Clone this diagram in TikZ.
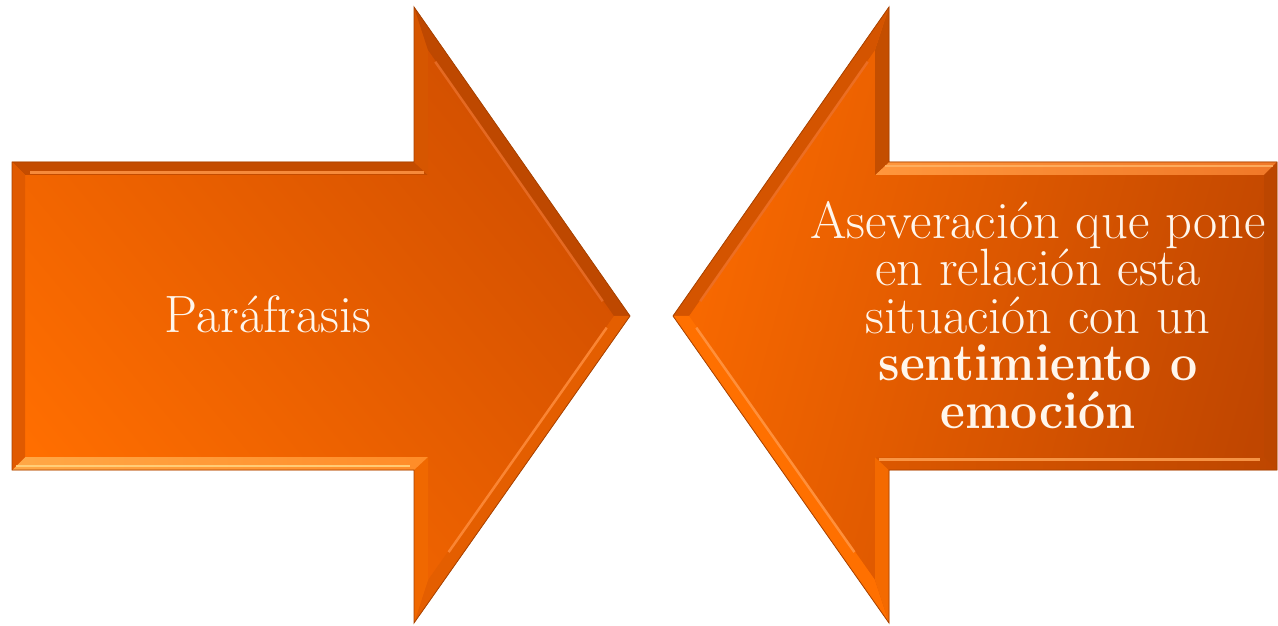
\documentclass[tikz,border=0pt]{standalone}
\usepackage{fontspec}
\setmainfont{Latin Modern Roman}
\usetikzlibrary{calc}
\newcommand{\narrowbf}[1]{\scalebox{0.92}[1]{\textbf{#1}}}
\definecolor{txtc}{HTML}{FFF6EC}
\definecolor{edgec}{HTML}{A84200}
% left arrow colours
\definecolor{lbodyD}{RGB}{208,78,0}
\definecolor{lbodyL}{RGB}{255,110,0}
\definecolor{lTop}{RGB}{196,76,0}
\definecolor{lHeadUp}{RGB}{214,86,0}
\definecolor{lDiagUp}{RGB}{190,72,0}
\definecolor{lDiagLo}{RGB}{228,94,0}
\definecolor{lHeadLo}{RGB}{240,104,0}
\definecolor{lBotA}{RGB}{255,168,70}
\definecolor{lBotB}{RGB}{255,140,40}
\definecolor{lLeft}{RGB}{224,90,0}
\definecolor{gA}{RGB}{255,150,70}
\definecolor{gB}{RGB}{255,214,130}
\definecolor{gC}{RGB}{232,110,40}
\definecolor{gD}{RGB}{255,140,60}
% right arrow colours
\definecolor{rbodyL}{RGB}{250,106,0}
\definecolor{rbodyD}{RGB}{192,70,0}
\definecolor{rTopA}{RGB}{255,150,60}
\definecolor{rTopB}{RGB}{240,120,40}
\definecolor{rHeadUp}{RGB}{196,78,0}
\definecolor{rDiagUp}{RGB}{212,84,0}
\definecolor{rDiagLo}{RGB}{255,112,0}
\definecolor{rHeadLo}{RGB}{244,106,0}
\definecolor{rBotA}{RGB}{220,88,0}
\definecolor{rBotB}{RGB}{190,70,0}
\definecolor{rRight}{RGB}{188,70,0}
\definecolor{gE}{RGB}{255,178,100}
\definecolor{gF}{RGB}{255,160,80}
\definecolor{gG}{RGB}{236,112,40}
\definecolor{gH}{RGB}{255,150,70}
\tikzset{
  outline/.style={draw=edgec, line width=0.8pt, line join=miter},
  glint/.style={line width=2.5pt, opacity=0.85, line cap=butt},
  shadowfill/.style={fill=black, opacity=0.13},
  lbl/.style={text=txtc, align=center, inner sep=0pt, font=\fontsize{52.5}{47.5}\selectfont}
}
\begin{document}
\begin{tikzpicture}[x=1pt,y=1pt]
\useasboundingbox (0,0) rectangle (1278,625);
\fill[white] (0,0) rectangle (1278,625);
\begin{scope}
\clip (0,0) rectangle (1278,625);
% ---------- LEFT ARROW ----------
\coordinate (LA) at (12,463);
\coordinate (LB) at (414,463);
\coordinate (LC) at (414,618);
\coordinate (LD) at (630,309);
\coordinate (LE) at (414,2);
\coordinate (LF) at (414,155);
\coordinate (LG) at (12,155);
\coordinate (la) at (25,450);
\coordinate (lb) at (428,450);
\coordinate (lc) at (428,575);
\coordinate (ld) at (614,309);
\coordinate (le) at (428,45);
\coordinate (lf) at (428,168);
\coordinate (lg) at (25,168);
\fill[shadowfill, shift={(3,-4)}] (LA)--(LB)--(LC)--(LD)--(LE)--(LF)--(LG)--cycle;
\shade[top color=lbodyD, bottom color=lbodyL, shading angle=-50]
  (LA)--(LB)--(LC)--(LD)--(LE)--(LF)--(LG)--cycle;
\fill[lTop] (LA)--(LB)--(lb)--(la)--cycle;
\fill[lHeadUp] (LB)--(LC)--(lc)--(lb)--cycle;
\fill[lDiagUp] (LC)--(LD)--(ld)--(lc)--cycle;
\fill[lDiagLo] (LD)--(LE)--(le)--(ld)--cycle;
\fill[lHeadLo] (LE)--(LF)--(lf)--(le)--cycle;
\shade[left color=lBotA, right color=lBotB] (LF)--(LG)--(lg)--(lf)--cycle;
\fill[lLeft] (LG)--(LA)--(la)--(lg)--cycle;
\draw[glint, gA] (30,452.5) -- (424,452.5);
\draw[glint, gB] (16,159) -- (410,159);
\draw[glint, gC] ($(lc)!0.05!(ld)+(-2,1.5)$) -- ($(lc)!0.95!(ld)+(-2,1.5)$);
\draw[glint, gD] ($(ld)!0.05!(le)+(2,1.5)$) -- ($(ld)!0.9!(le)+(2,1.5)$);
\draw[outline] (LA)--(LB)--(LC)--(LD)--(LE)--(LF)--(LG)--cycle;
% ---------- RIGHT ARROW ----------
\coordinate (RA) at (1277,463);
\coordinate (RB) at (889,463);
\coordinate (RC) at (889,618);
\coordinate (RD) at (673,309);
\coordinate (RE) at (889,2);
\coordinate (RF) at (889,155);
\coordinate (RG) at (1277,155);
\coordinate (ra) at (1264,450);
\coordinate (rb) at (875,450);
\coordinate (rc) at (875,575);
\coordinate (rd) at (689,309);
\coordinate (re) at (875,45);
\coordinate (rf) at (875,168);
\coordinate (rg) at (1264,168);
\fill[shadowfill, shift={(3,-4)}] (RA)--(RB)--(RC)--(RD)--(RE)--(RF)--(RG)--cycle;
\shade[left color=rbodyL, right color=rbodyD, shading angle=75]
  (RA)--(RB)--(RC)--(RD)--(RE)--(RF)--(RG)--cycle;
\shade[left color=rTopA, right color=rTopB] (RA)--(RB)--(rb)--(ra)--cycle;
\fill[rHeadUp] (RB)--(RC)--(rc)--(rb)--cycle;
\fill[rDiagUp] (RC)--(RD)--(rd)--(rc)--cycle;
\fill[rDiagLo] (RD)--(RE)--(re)--(rd)--cycle;
\fill[rHeadLo] (RE)--(RF)--(rf)--(re)--cycle;
\shade[left color=rBotA, right color=rBotB] (RF)--(RG)--(rg)--(rf)--cycle;
\fill[rRight] (RG)--(RA)--(ra)--(rg)--cycle;
\draw[glint, gE] (885,459) -- (1273,459);
\draw[glint, gF] (879,165.5) -- (1260,165.5);
\draw[glint, gG] ($(rc)!0.05!(rd)+(2,1.5)$) -- ($(rc)!0.95!(rd)+(2,1.5)$);
\draw[glint, gH] ($(rd)!0.05!(re)+(-2,1.5)$) -- ($(rd)!0.9!(re)+(-2,1.5)$);
\draw[outline] (RA)--(RB)--(RC)--(RD)--(RE)--(RF)--(RG)--cycle;
\end{scope}
% ---------- TEXTS ----------
\node[lbl, anchor=base] (t1) at (268,292) {Paráfrasis};
\node[lbl] (t2) at (1038,310) {Aseveración que pone\\en relación esta\\situación con un\\\narrowbf{sentimiento o}\\\narrowbf{emoción}};
\end{tikzpicture}
\end{document}
